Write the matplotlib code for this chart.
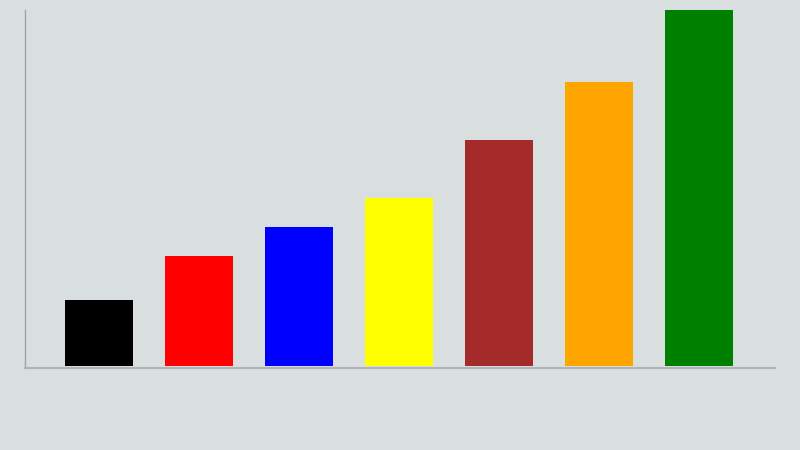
import matplotlib
matplotlib.use("Agg")
import matplotlib.pyplot as plt

categories = ["A", "B", "C", "D", "E", "F", "G"]
values = [12.0, 20.1, 25.3, 30.6, 41.3, 51.8, 65.0]
colors = ["black", "red", "blue", "yellow", "brown", "orange", "green"]

bg = "#d9dfdf"
fig = plt.figure(figsize=(8, 4.5), dpi=100, facecolor=bg)
ax = fig.add_axes([25/800, 1-368/450, 750/800, 358/450])
ax.set_facecolor(bg)
x = list(range(len(categories)))
ax.bar(x, values, width=0.68, color=colors)
ax.set_xlim(-0.74, 6.76)
ax.set_ylim(-0.37, 65)
ax.set_xticks([])
ax.set_yticks([])
for s in ["top", "right"]:
    ax.spines[s].set_visible(False)
ax.spines["left"].set_color("#a0a4a4")
ax.spines["left"].set_linewidth(1.0)
ax.spines["bottom"].set_color("#b0b4b4")
ax.spines["bottom"].set_linewidth(1.5)
fig.savefig("out.png", dpi=100, facecolor=bg)
